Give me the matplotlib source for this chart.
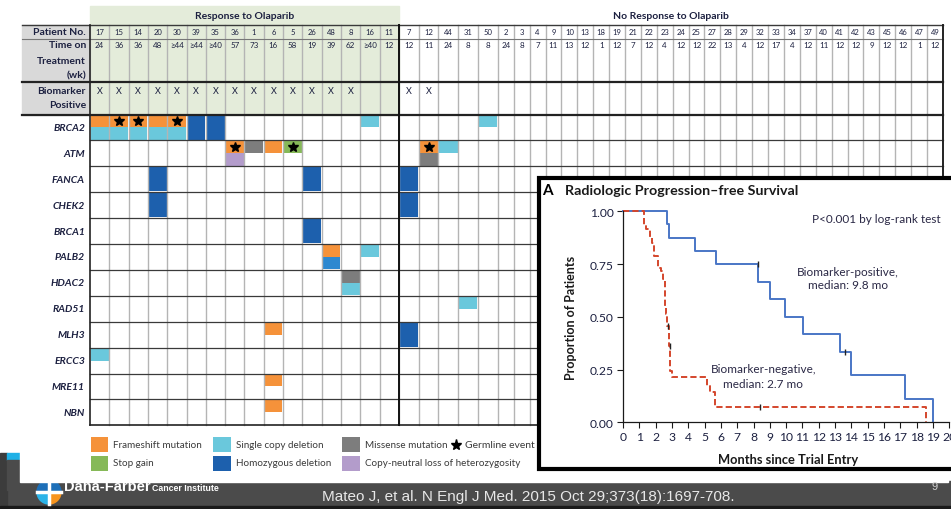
import matplotlib.pyplot as plt
import matplotlib.patches as mpatches
from matplotlib.patches import Rectangle, Wedge
import numpy as np

# --- data -------------------------------------------------------------
responder_ids = [17, 15, 14, 20, 30, 39, 35, 36, 1, 6, 5, 26, 48, 8, 16, 11]
responder_weeks = ['24', '36', '36', '48', '≥44', '≥44', '≥40', '57', '73',
                   '16', '58', '19', '39', '62', '≥40', '12']
nonresponder_ids = [7, 12, 44, 31, 50, 2, 3, 4, 9, 10, 13, 18, 19, 21, 22, 23, 24,
                    25, 27, 28, 29, 32, 33, 34, 37, 40, 41, 42, 43, 45, 46, 47, 49]
nonresponder_weeks = ['12', '11', '24', '8', '8', '24', '8', '7', '11', '13', '12',
                      '1', '12', '7', '12', '4', '12', '12', '22', '13', '4', '12',
                      '17', '4', '12', '11', '12', '12', '9', '12', '12', '1', '12']
biomarker_positive = [17, 15, 14, 20, 30, 39, 35, 36, 1, 6, 5, 26, 48, 8, 7, 12]

genes = ['BRCA2', 'ATM', 'FANCA', 'CHEK2', 'BRCA1', 'PALB2', 'HDAC2',
         'RAD51', 'MLH3', 'ERCC3', 'MRE11', 'NBN']

# (patient, gene, part of cell, alteration)
alterations = [
    (17, 'BRCA2', 'top', 'frameshift'), (15, 'BRCA2', 'top', 'frameshift'),
    (14, 'BRCA2', 'top', 'frameshift'), (20, 'BRCA2', 'top', 'frameshift'),
    (30, 'BRCA2', 'top', 'frameshift'),
    (17, 'BRCA2', 'bottom', 'single'), (15, 'BRCA2', 'bottom', 'single'),
    (14, 'BRCA2', 'bottom', 'single'), (20, 'BRCA2', 'bottom', 'single'),
    (30, 'BRCA2', 'bottom', 'single'),
    (39, 'BRCA2', 'full', 'homdel'), (35, 'BRCA2', 'full', 'homdel'),
    (16, 'BRCA2', 'top', 'single'), (50, 'BRCA2', 'top', 'single'),
    (36, 'ATM', 'top', 'frameshift'), (36, 'ATM', 'bottom', 'cnloh'),
    (1, 'ATM', 'top', 'missense'), (6, 'ATM', 'top', 'frameshift'),
    (5, 'ATM', 'top', 'stopgain'),
    (12, 'ATM', 'top', 'frameshift'), (12, 'ATM', 'bottom', 'missense'),
    (44, 'ATM', 'top', 'single'),
    (20, 'FANCA', 'full', 'homdel'), (26, 'FANCA', 'full', 'homdel'),
    (7, 'FANCA', 'full', 'homdel'),
    (20, 'CHEK2', 'full', 'homdel'), (7, 'CHEK2', 'full', 'homdel'),
    (26, 'BRCA1', 'full', 'homdel'),
    (48, 'PALB2', 'top', 'frameshift'), (48, 'PALB2', 'bottom', 'homdel_mid'),
    (16, 'PALB2', 'top', 'single'),
    (8, 'HDAC2', 'top', 'missense'), (8, 'HDAC2', 'bottom', 'single'),
    (31, 'RAD51', 'top', 'single'),
    (6, 'MLH3', 'top', 'frameshift'), (7, 'MLH3', 'full', 'homdel'),
    (17, 'ERCC3', 'top', 'single'),
    (6, 'MRE11', 'top', 'frameshift'),
    (6, 'NBN', 'top', 'frameshift'),
]
germline = [(15, 'BRCA2'), (14, 'BRCA2'), (30, 'BRCA2'),
            (36, 'ATM'), (5, 'ATM'), (12, 'ATM')]

legend_rows = [
    [('frameshift', 'Frameshift mutation'), ('single', 'Single copy deletion'),
     ('missense', 'Missense mutation'), ('star', 'Germline event')],
    [('stopgain', 'Stop gain'), ('homdel', 'Homozygous deletion'),
     ('cnloh', 'Copy-neutral loss of heterozygosity')],
]

# radiologic PFS, step curves read as (months, proportion)
pos_t = [0, 2.70, 2.82, 4.43, 5.72, 8.29, 8.99, 9.90, 11.03, 13.30, 13.99, 17.26, 19.0]
pos_s = [1.0, 0.9375, 0.875, 0.8125, 0.75, 0.667, 0.583, 0.50, 0.417, 0.333,
         0.222, 0.111, 0.0]
pos_cens_t = [8.25, 13.6]
pos_cens_s = [0.75, 0.333]
neg_t = [0, 1.27, 1.43, 1.67, 1.80, 1.90, 2.14, 2.35, 2.45, 2.55, 2.65, 2.71,
         2.82, 2.90, 3.02, 5.14, 5.31, 5.61, 18.55]
neg_s = [1.0, 0.937, 0.916, 0.877, 0.848, 0.790, 0.731, 0.719, 0.679, 0.545,
         0.513, 0.458, 0.363, 0.245, 0.213, 0.174, 0.142, 0.071, 0.0]
neg_cens_t = [2.75, 2.86, 8.4]
neg_cens_s = [0.458, 0.363, 0.071]

# --- style --------------------------------------------------------------
COLORS = {
    'frameshift': '#f5923a',
    'single': '#6ac8dc',
    'missense': '#7d7d7d',
    'stopgain': '#86b958',
    'homdel': '#1d60ad',
    'homdel_mid': '#2d88d0',
    'cnloh': '#b39ccb',
}
NAVY = '#1c2040'
GRID = '#b4b4b4'
LINE = '#3a3a3a'
GREEN_BG = '#e4ecda'
LABEL_BG = '#d9d9d9'

plt.rcParams['font.family'] = ['Lato', 'DejaVu Sans']

W, H = 951, 510
fig = plt.figure(figsize=(W / 100, H / 100), dpi=100)
fig.patch.set_facecolor('white')

ax = fig.add_axes([0, 0, 1, 1])
ax.set_xlim(0, W)
ax.set_ylim(H, 0)
ax.axis('off')

# slide frame and footer
ax.add_patch(Rectangle((0, 482), W, 28, color='#4b4b4b', zorder=0.1))
ax.add_patch(Rectangle((0, 454), 7, 56, color='#3c3c3c', zorder=0.1))
ax.add_patch(Rectangle((7, 454), 13, 7, color='#1fb0e6', zorder=0.15))
ax.add_patch(Rectangle((7, 461), 13, 30, color='#4b4b4b', zorder=0.15))
ax.add_patch(Rectangle((0, 507), W, 3, color='#1a1a1a', zorder=0.2))

# logo (partly hidden behind the white panel)
for th1, th2, c in [(90, 180, '#2bb3e8'), (0, 90, '#f7941d'),
                    (180, 270, '#1d6fb8'), (270, 360, '#1d6fb8')]:
    ax.add_patch(Wedge((49, 493), 12, th1, th2, color=c, zorder=0.2))
ax.plot([49, 49], [481, 505], color='white', lw=2.5, zorder=0.25)
ax.plot([37, 61], [493, 493], color='white', lw=2.5, zorder=0.25)
ax.text(64, 487.5, 'Dana-Farber', color='white', fontsize=10.5, fontweight='bold',
        family=['Liberation Sans', 'DejaVu Sans'], va='center', ha='left', zorder=0.2)
ax.text(152, 488.5, 'Cancer Institute', color='white', fontsize=6.3, fontweight='bold',
        family=['Liberation Sans', 'DejaVu Sans'], va='center', ha='left', zorder=0.2)
ax.add_patch(Rectangle((20, 0), 928, 482.5, color='white', zorder=0.3))

ax.text(528, 497.5, 'Mateo J, et al. N Engl J Med. 2015 Oct 29;373(18):1697-708.',
        color='#e8e8e8', fontsize=11, family=['Liberation Sans', 'DejaVu Sans'],
        ha='center', va='center', zorder=1)
ax.text(935, 487, '9', color='#d0d0d0', fontsize=8,
        family=['Liberation Sans', 'DejaVu Sans'], ha='center', va='center', zorder=1)

# --- alteration table ---------------------------------------------------
patients = responder_ids + nonresponder_ids
weeks = responder_weeks + nonresponder_weeks
n_resp = len(responder_ids)
col_w = np.r_[np.full(n_resp, 19.3), np.full(5, 19.8),
              np.full(len(nonresponder_ids) - 5, 15.9)]
x_edges = 90 + np.r_[0, np.cumsum(col_w)]
x_mid = (x_edges[:-1] + x_edges[1:]) / 2
col_of = {p: i for i, p in enumerate(patients)}
x_split = x_edges[n_resp]
x_right = x_edges[-1]

row_h = 25.9
gene_top = 115.5
y_edges = gene_top + row_h * np.arange(len(genes) + 1)
row_of = {g: i for i, g in enumerate(genes)}

# header backgrounds
ax.add_patch(Rectangle((90, 7), x_split - 90, gene_top - 7, color=GREEN_BG, zorder=1))
ax.add_patch(Rectangle((22, 26), 68, gene_top - 26, color=LABEL_BG, zorder=1))
ax.text((90 + x_split) / 2, 16.5, 'Response to Olaparib', fontsize=7.5,
        fontweight='bold', color=NAVY, ha='center', va='center', zorder=3)
ax.text((x_split + x_right) / 2, 16.5, 'No Response to Olaparib', fontsize=7.5,
        fontweight='bold', color=NAVY, ha='center', va='center', zorder=3)

lab_kw = dict(fontsize=7.5, fontweight='bold', color=NAVY, ha='right',
              va='center', zorder=3)
ax.text(86, 32.5, 'Patient No.', **lab_kw)
for txt, yy in [('Time on', 46), ('Treatment', 61), ('(wk)', 76),
                ('Biomarker', 92), ('Positive', 106)]:
    ax.text(86, yy, txt, **lab_kw)

for i, p in enumerate(patients):
    ax.text(x_mid[i], 32.5, str(p), fontsize=5.5, color=NAVY,
            ha='center', va='center', zorder=3)
    ax.text(x_mid[i], 46, weeks[i], fontsize=5.8, color=NAVY,
            ha='center', va='center', zorder=3)
    if p in biomarker_positive:
        ax.text(x_mid[i], 92, 'X', fontsize=6.5, color=NAVY,
                ha='center', va='center', zorder=3)

# gene labels
for g, i in row_of.items():
    ax.text(85, (y_edges[i] + y_edges[i + 1]) / 2, g, fontsize=7.5,
            fontweight='bold', fontstyle='italic', color=NAVY,
            ha='right', va='center', zorder=3)

# coloured cells
half = row_h / 2
for p, g, part, kind in alterations:
    c = col_of[p]
    x0, w = x_edges[c] + 0.6, col_w[c] - 1.2
    y0 = y_edges[row_of[g]]
    if part == 'top':
        y, h = y0 + 0.8, half - 0.8
    elif part == 'bottom':
        y, h = y0 + half, half - 0.8
    else:
        y, h = y0 + 0.8, row_h - 1.6
    ax.add_patch(Rectangle((x0, y), w, h, color=COLORS[kind], lw=0, zorder=2))

for p, g in germline:
    c = col_of[p]
    ax.plot(x_mid[c], y_edges[row_of[g]] + half / 2 + 0.5, marker='*',
            color='black', markersize=7.5, mec='black', zorder=4)

# grid lines
for xe in x_edges[1:-1]:
    ax.plot([xe, xe], [26, y_edges[-1]], color=GRID, lw=1.0, zorder=2.5)
for ye in y_edges[1:-1]:
    ax.plot([90, x_right], [ye, ye], color=LINE, lw=0.9, zorder=2.6)
ax.plot([22, x_right], [26, 26], color=LINE, lw=1.0, zorder=2.6)
ax.plot([22, x_right], [39.5, 39.5], color='#777777', lw=0.8, zorder=2.6)
ax.plot([22, x_right], [83, 83], color='#222222', lw=1.6, zorder=2.6)
ax.plot([22, x_right], [gene_top, gene_top], color='#222222', lw=1.6, zorder=2.6)
ax.plot([90, x_right], [y_edges[-1], y_edges[-1]], color='#222222', lw=1.2, zorder=2.6)
ax.plot([90, 90], [26, y_edges[-1]], color='#222222', lw=1.2, zorder=2.6)
ax.plot([x_split, x_split], [26, y_edges[-1]], color='#111111', lw=1.4, zorder=2.7)
ax.plot([x_right, x_right], [26, y_edges[-1]], color='#222222', lw=1.4, zorder=2.6)

# legend
leg_x = [90.7, 213.3, 342.3, 456]
leg_y = [445.5, 464]
for r, row in enumerate(legend_rows):
    for k, (kind, label) in enumerate(row):
        xx, yy = leg_x[k], leg_y[r]
        if kind == 'star':
            ax.plot(xx, yy, marker='*', color='black', markersize=8, zorder=3)
            ax.text(xx + 9, yy, label, fontsize=7.5, color='#3a3a3a',
                    ha='left', va='center', zorder=3)
        else:
            ax.add_patch(Rectangle((xx, yy - 7.5), 17.6, 15, color=COLORS[kind],
                                   lw=0, zorder=3))
            ax.text(xx + 22.5, yy, label, fontsize=7.1, color='#3a3a3a',
                    ha='left', va='center', zorder=3)

# --- inset: radiologic progression-free survival ------------------------
ax.add_patch(Rectangle((538.5, 178.5), 420, 292, facecolor='white',
                       edgecolor='black', lw=3, zorder=5))
ax.text(542, 191, 'A', fontsize=11, fontweight='bold', color='black',
        ha='left', va='center', zorder=6)
ax.text(565, 191.5, 'Radiologic Progression–free Survival', fontsize=10.3,
        fontweight='bold', color='#1a1a1a', ha='left', va='center', zorder=6)

x0_px, x19_px = 623, 933
y1_px, y0_px = 212.3, 423.3
px_per_mo = (x19_px - x0_px) / 19
km = fig.add_axes([x0_px / W, 1 - y0_px / H, 20 * px_per_mo / W,
                   (y0_px - y1_px) / H])
km.patch.set_alpha(0)
km.set_xlim(0, 20)
km.set_ylim(0, 1)

km.step(pos_t, pos_s, where='post', color='#4a76c6', lw=1.4, clip_on=False)
km.step(neg_t, neg_s, where='post', color='#d4462c', lw=1.4,
        linestyle=(0, (3.2, 1.6)), clip_on=False)
km.plot(pos_cens_t, pos_cens_s, linestyle='none', marker='|', color='#222222',
        markersize=5, mew=1.0, clip_on=False)
km.plot(neg_cens_t, neg_cens_s, linestyle='none', marker='|', color='#222222',
        markersize=5, mew=1.0, clip_on=False)

for s in ['top', 'right']:
    km.spines[s].set_visible(False)
for s in ['left', 'bottom']:
    km.spines[s].set_color('#1a1a1a')
    km.spines[s].set_linewidth(0.9)
km.set_xticks(range(0, 21))
km.set_yticks([0, 0.25, 0.5, 0.75, 1.0])
km.set_yticklabels(['0.00', '0.25', '0.50', '0.75', '1.00'])
km.tick_params(axis='both', direction='out', length=4.5, width=0.8,
               color='#1a1a1a', labelsize=8.7, labelcolor=NAVY, pad=2)

km.set_ylabel('Proportion of Patients', fontsize=9, fontweight='bold',
              color='#1a1a1a')
km.yaxis.set_label_coords((577 - x0_px) / (20 * px_per_mo), 0.5)
km.set_xlabel('Months since Trial Entry', fontsize=9.3, fontweight='bold',
              color='#1a1a1a')
km.xaxis.set_label_coords((788 - x0_px) / (20 * px_per_mo),
                          (y0_px - 460) / (y0_px - y1_px))
km.xaxis.label.set_va('center')

note_kw = dict(fontsize=8.5, color='#2a2845', ha='center', va='center')
km.text(15.5, 0.967, 'P<0.001 by log-rank test', **note_kw)
km.text(13.8, 0.716, 'Biomarker-positive,', **note_kw)
km.text(13.8, 0.655, 'median: 9.8 mo', **note_kw)
km.text(8.6, 0.253, 'Biomarker-negative,', **note_kw)
km.text(8.6, 0.182, 'median: 2.7 mo', **note_kw)

fig.savefig('out.png', dpi=100)
